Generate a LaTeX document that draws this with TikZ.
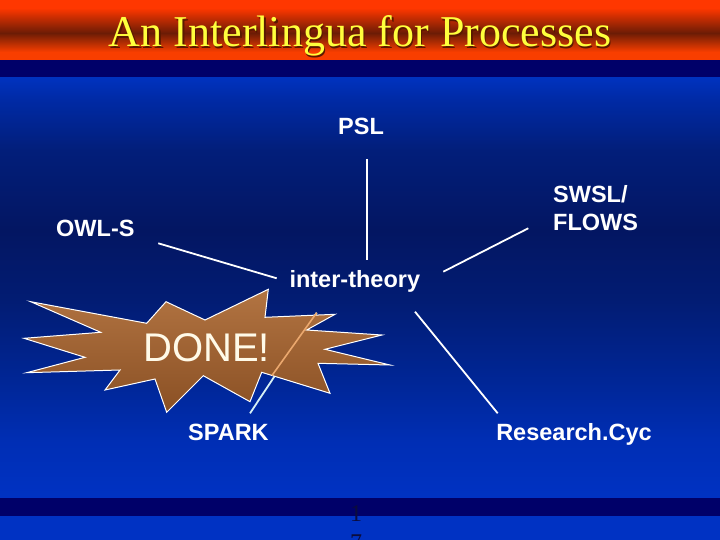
\documentclass[tikz,border=0pt]{standalone}
\usepackage{fontspec}
\setmainfont{Liberation Serif}
\newfontfamily\arialfont{Liberation Sans}
\usetikzlibrary{calc}

\definecolor{titleTop}{RGB}{255,55,0}
\definecolor{titleMid}{RGB}{108,28,5}
\definecolor{titleBot}{RGB}{248,62,0}
\definecolor{titleYellow}{RGB}{255,255,60}
\definecolor{titleShadow}{RGB}{90,25,0}
\definecolor{navyBand}{RGB}{0,0,105}
\definecolor{bgLow}{RGB}{0,50,195}
\definecolor{bgB}{RGB}{0,46,180}
\definecolor{bgC}{RGB}{0,38,150}
\definecolor{bgD}{RGB}{2,28,115}
\definecolor{bgE}{RGB}{3,22,98}
\definecolor{bgF}{RGB}{2,30,122}
\definecolor{bgG}{RGB}{0,42,165}
\definecolor{bgTop}{RGB}{0,50,190}
\definecolor{starTop}{RGB}{178,116,66}
\definecolor{starBot}{RGB}{138,80,36}
\definecolor{doneText}{RGB}{255,250,232}
\definecolor{sparkLine}{RGB}{215,240,245}
\definecolor{sparkInner}{RGB}{235,168,110}
\definecolor{pageNum}{RGB}{12,12,60}

\pgfdeclareverticalshading{mainbg}{100bp}{color(0bp)=(bgLow); color(25bp)=(bgLow); color(31.9bp)=(bgB); color(39bp)=(bgC); color(48.6bp)=(bgD); color(56.9bp)=(bgE); color(66.4bp)=(bgF); color(72.4bp)=(bgG); color(75bp)=(bgTop); color(100bp)=(bgTop)}
\pgfdeclareverticalshading{titlebg}{100bp}{color(0bp)=(titleBot); color(25bp)=(titleBot); color(31.7bp)=(titleBot); color(47.5bp)=(titleMid); color(68.3bp)=(titleTop); color(75bp)=(titleTop); color(100bp)=(titleTop)}

\tikzset{
  lbl/.style={font=\arialfont\bfseries\fontsize{23.5}{28.5}\selectfont, text=white, inner sep=0pt},
  link/.style={draw=white, line width=1.8pt},
}

\begin{document}
\begin{tikzpicture}[x=1pt, y=-1pt]
\useasboundingbox (0,0) rectangle (720,540);

% background bands
\shade[shading=titlebg] (0,0) rectangle (720,60);
\fill[navyBand] (0,60) rectangle (720,78);
\shade[shading=mainbg] (0,78) rectangle (720,498);
\fill[navyBand] (0,498) rectangle (720,516);
\fill[bgLow] (0,516) rectangle (720,540);

% title
\node[font=\fontsize{44}{50}\selectfont, text=titleShadow, anchor=base, inner sep=0pt] (titleshadow) at (361.5,48.2) {An Interlingua for Processes};
\node[font=\fontsize{44}{50}\selectfont, text=titleYellow, anchor=base, inner sep=0pt] (title) at (360,46.7) {An Interlingua for Processes};

% labels
\node[lbl, anchor=base] (psl) at (361,135) {PSL};
\node[lbl, anchor=north west, align=left] (swsl) at (553,185) {SWSL/\\FLOWS};
\node[lbl, anchor=base west] (owls) at (56,236.7) {OWL-S};
\node[lbl, anchor=base west] (inter) at (289.3,287.3) {inter-theory};
\node[lbl, anchor=base west] (spark) at (188,440) {SPARK};
\node[lbl, anchor=base] (cyc) at (574,440) {Research.Cyc};

% connector end points
\coordinate (pslA) at (367,159);
\coordinate (pslB) at (367,260);
\coordinate (owlA) at (158.3,243.3);
\coordinate (owlB) at (276.7,278.3);
\coordinate (swslA) at (528.3,228.3);
\coordinate (swslB) at (443.3,271.7);
\coordinate (sparkA) at (250,413.3);
\coordinate (sparkM) at (272,375.5);
\coordinate (sparkB) at (316.7,312.7);
\coordinate (cycA) at (497.7,413.3);
\coordinate (cycB) at (415,311.7);

\draw[link] (pslA) -- (pslB);
\draw[link] (owlA) -- (owlB);
\draw[link] (swslA) -- (swslB);
\draw[link] (cycB) -- (cycA);
\draw[link, draw=sparkLine] (sparkA) -- (sparkB);

% starburst
\shade[top color=starTop, bottom color=starBot, draw=white, line width=1pt, line join=miter]
  (30.7,301.7) -- (146.7,323.3) -- (166,301.7) -- (205,320) -- (268.3,289.3) -- (265,317.3)
  -- (335,314.3) -- (306.7,330) -- (382,335) -- (325,349.3) -- (390,365) -- (318,363.3)
  -- (330,393.3) -- (261.7,372.3) -- (250,401.7) -- (203.3,375.7) -- (166.7,412.3) -- (155,379)
  -- (105,390) -- (120,370) -- (26.7,372.7) -- (85,357.3) -- (24,338.3) -- (100.7,332.3) -- cycle;
\draw[draw=sparkInner, line width=1.6pt] (sparkM) -- (sparkB);

\node[font=\arialfont\fontsize{40}{44}\selectfont, text=doneText, anchor=base west, inner sep=0pt] (done) at (143,361.7) {DONE!};

% page number
\node[font=\fontsize{24}{29}\selectfont, text=pageNum, anchor=north, align=center, inner sep=0pt] (pagenum) at (356,505) {1\\7};
\end{tikzpicture}
\end{document}
